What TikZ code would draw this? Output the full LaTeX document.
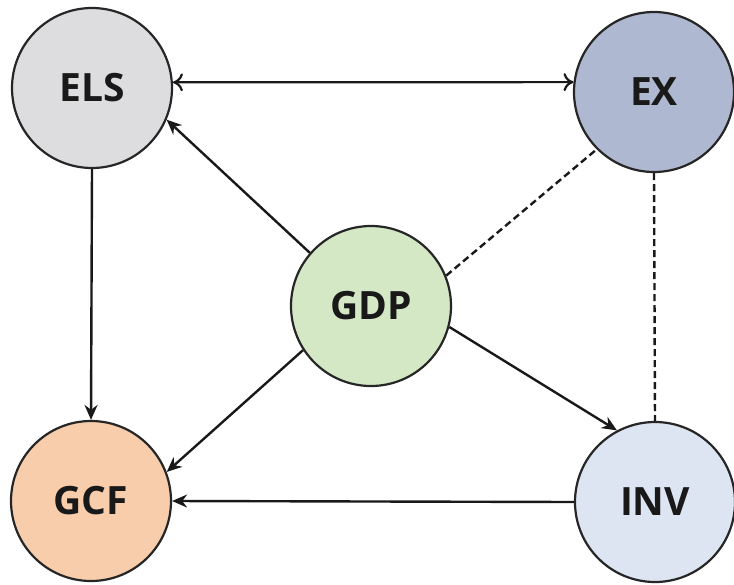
\documentclass[tikz,border=0pt]{standalone}
\usepackage{fontspec}
\setmainfont{Open Sans}
\usetikzlibrary{arrows.meta}
\definecolor{elsc}{HTML}{DDDDE0}
\definecolor{exc}{HTML}{AEB8D0}
\definecolor{gdpc}{HTML}{D5E8C5}
\definecolor{gcfc}{HTML}{F7CDAC}
\definecolor{invc}{HTML}{DDE5F3}
\tikzset{
  var/.style={circle, draw=black!85, line width=2.2pt, minimum size=160pt, inner sep=0pt,
    font=\fontsize{39}{42}\selectfont\bfseries, text=black!90},
  link/.style={line width=2.4pt, draw=black!90, -{Stealth[length=15pt,width=13pt]}},
  both/.style={line width=2.2pt, draw=black!90, {To[length=10pt,width=18pt]}-{To[length=10pt,width=18pt]}},
  dlink/.style={line width=2.4pt, draw=black!90, dash pattern=on 7pt off 4pt}
}
\begin{document}
\begin{tikzpicture}[x=1pt,y=-1pt]
\useasboundingbox (0,0) rectangle (734,584);
\node[var, fill=elsc] (ELS) at (92,88) {ELS};
\node[var, fill=exc] (EX) at (654,92) {EX};
\node[var, fill=gdpc] (GDP) at (371,306) {GDP};
\node[var, fill=gcfc] (GCF) at (91,501) {GCF};
\node[var, fill=invc] (INV) at (655,502) {INV};
\draw[both] (ELS.4) -- (EX.173);
\draw[link] (GDP.139) -- (ELS.-23);
\draw[link] (GDP.213) -- (GCF.21);
\draw[link] (GDP.-15) -- (INV.118);
\draw[link] (ELS.south) -- (GCF.north);
\draw[link] (INV.west) -- (GCF.east);
\draw[dlink] (GDP.22) -- (EX.225);
\draw[dlink] (EX.south) -- (INV.north);
\end{tikzpicture}
\end{document}
